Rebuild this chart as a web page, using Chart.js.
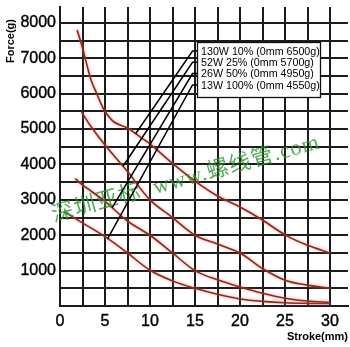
<!DOCTYPE html>
<html lang="zh">
<head>
<meta charset="UTF-8">
<title>Force - Stroke</title>
<script src="https://cdn.jsdelivr.net/npm/chart.js"></script>
<style>
  html, body { margin: 0; padding: 0; background: #fff; }
  canvas { display: block; }
</style>
</head>
<body>
<canvas id="forceChart" width="350" height="347"></canvas>
<script>
// stroke (mm) against holding force (g), one pair of arrays per duty rating
const stroke130 = [1.9, 2.5, 3, 3.5, 4, 4.5, 5, 6, 7.5, 9, 10, 12.5, 15, 17.5, 20, 22.5, 25, 27.5, 30];
const force130  = [7800, 7300, 6800, 6350, 6050, 5750, 5500, 5200, 5030, 4760, 4580, 4030, 3530, 3110, 2800, 2430, 2010, 1715, 1500];

const stroke52 = [2.4, 3.5, 5, 7.5, 10, 12.5, 15, 17.5, 20, 22.5, 25, 27.5, 30];
const force52  = [5480, 5050, 4550, 3800, 3000, 2500, 2000, 1750, 1500, 1060, 730, 590, 500];

const stroke26 = [1.7, 2.5, 5, 7.5, 10, 12.5, 15, 17.5, 20, 22.5, 25, 27.5, 30];
const force26  = [3600, 3420, 2960, 2400, 2000, 1500, 1000, 740, 540, 360, 220, 140, 100];

const stroke13 = [0.5, 2.5, 5, 7.5, 10, 12.5, 15, 17.5, 20, 22.5, 25, 27.5, 30];
const force13  = [2660, 2350, 1960, 1500, 1010, 710, 500, 330, 200, 130, 90, 75, 70];

const seriesLabels = ['130W 10% (0mm 6500g)', '52W 25% (0mm 5700g)', '26W 50% (0mm 4950g)', '13W 100% (0mm 4550g)'];
// stroke where each label's pointer meets its curve
const pointerStroke = [8.4, 7.0, 5.8, 5.3];

const xTickLabels = [0, 5, 10, 15, 20, 25, 30];
const yTickLabels = [1000, 2000, 3000, 4000, 5000, 6000, 7000, 8000];

const strokes = [stroke130, stroke52, stroke26, stroke13];
const forces = [force130, force52, force26, force13];

const FONT = "'Liberation Sans', Arial, Helvetica, sans-serif";
const CURVE = '#8a2a1d';
const GRID = '#1c1c1c';

function toPoints(xs, ys) {
  return xs.map((x, i) => ({ x: x, y: ys[i] }));
}

// linear read-off of a curve at a given stroke
function forceAt(xs, ys, x) {
  for (let i = 1; i < xs.length; i++) {
    if (x <= xs[i]) {
      const t = (x - xs[i - 1]) / (xs[i] - xs[i - 1]);
      return ys[i - 1] + t * (ys[i] - ys[i - 1]);
    }
  }
  return ys[ys.length - 1];
}

// soft reddish halo around each curve
const curveGlow = {
  id: 'curveGlow',
  beforeDatasetDraw(chart) {
    const ctx = chart.ctx;
    ctx.save();
    ctx.shadowColor = 'rgba(235, 105, 95, 0.75)';
    ctx.shadowBlur = 3;
  },
  afterDatasetDraw(chart) {
    chart.ctx.restore();
  }
};

// boxed key with pointer lines to the curves, axis title, watermark
const legendAt = { stroke: 15.25, force: 7460 };
const annotations = {
  id: 'annotations',
  afterDatasetsDraw(chart) {
    const ctx = chart.ctx;
    const xs = chart.scales.x;
    const ys = chart.scales.y;

    // watermark
    ctx.save();
    ctx.translate(54, 222);
    ctx.rotate(-15.5 * Math.PI / 180);
    ctx.font = "22px 'Liberation Serif', 'Noto Sans CJK SC', serif";
    ctx.letterSpacing = '1px';
    ctx.fillStyle = 'rgba(45, 150, 45, 0.8)';
    ctx.textBaseline = 'alphabetic';
    ctx.fillText('深圳亚标  www.螺线管.com', 0, 0);
    ctx.restore();

    const left = Math.round(xs.getPixelForValue(legendAt.stroke)) + 0.5;
    const top = Math.round(ys.getPixelForValue(legendAt.force)) + 0.5;
    const w = 123, h = 55;

    // pointer lines
    ctx.save();
    ctx.strokeStyle = '#000';
    ctx.lineWidth = 1.5;
    seriesLabels.forEach((label, i) => {
      const rowY = top + 8.5 + i * 11.3;
      const sx = pointerStroke[i];
      const px = xs.getPixelForValue(sx);
      const py = ys.getPixelForValue(forceAt(strokes[i], forces[i], sx));
      ctx.beginPath();
      ctx.moveTo(px, py);
      ctx.lineTo(left - 5, rowY);
      ctx.lineTo(left, rowY);
      ctx.stroke();
    });
    ctx.restore();

    // key box
    ctx.save();
    ctx.fillStyle = '#fff';
    ctx.fillRect(left, top, w, h);
    ctx.strokeStyle = '#111';
    ctx.lineWidth = 1.3;
    ctx.strokeRect(left, top, w, h);
    ctx.fillStyle = '#000';
    ctx.font = '10.7px ' + FONT;
    ctx.textBaseline = 'middle';
    seriesLabels.forEach((label, i) => {
      ctx.fillText(label, left + 3.5, top + 9.5 + i * 11.2);
    });
    ctx.restore();

    // vertical axis title
    ctx.save();
    ctx.translate(11, 41);
    ctx.rotate(-Math.PI / 2);
    ctx.font = 'bold 11px ' + FONT;
    ctx.fillStyle = '#000';
    ctx.textAlign = 'center';
    ctx.textBaseline = 'middle';
    ctx.fillText('Force(g)', 0, 0);
    ctx.restore();
  }
};

const datasets = seriesLabels.map((label, i) => ({
  label: label,
  data: toPoints(strokes[i], forces[i]),
  borderColor: CURVE,
  borderWidth: 1.6,
  pointRadius: 0,
  fill: false,
  tension: 0.35
}));

new Chart(document.getElementById('forceChart'), {
  type: 'line',
  data: { datasets: datasets },
  options: {
    responsive: false,
    animation: false,
    layout: { padding: { top: 7, right: 2, left: 0, bottom: 0 } },
    plugins: {
      legend: { display: false },
      tooltip: { enabled: false }
    },
    scales: {
      x: {
        type: 'linear',
        min: 0,
        max: 32,
        afterFit(scale) {
          scale.height = 41;
          scale.paddingLeft = 0;
          scale.paddingRight = 0;
        },
        grid: { color: GRID, lineWidth: 2, drawTicks: false },
        border: { color: GRID, width: 2 },
        ticks: {
          stepSize: 2.5,
          includeBounds: false,
          autoSkip: false,
          maxRotation: 0,
          padding: 6,
          color: '#000',
          textStrokeColor: '#000',
          textStrokeWidth: 0.4,
          font: { family: FONT, size: 16 },
          callback: v => xTickLabels.includes(v) ? String(v) : ''
        },
        title: {
          display: true,
          text: 'Stroke(mm)',
          align: 'end',
          color: '#000',
          font: { family: FONT, size: 11, weight: 'bold' },
          padding: { top: 0, bottom: 3 }
        }
      },
      y: {
        min: 0,
        max: 8450,
        // gridlines every 500 g up to 8000, the axis runs a little past
        afterBuildTicks(scale) {
          const ticks = [];
          for (let v = 0; v <= 8000; v += 500) ticks.push({ value: v });
          scale.ticks = ticks;
        },
        afterFit(scale) {
          scale.width = 60;
          scale.paddingTop = 0;
          scale.paddingBottom = 0;
        },
        grid: { color: GRID, lineWidth: 2, drawTicks: false },
        border: { color: GRID, width: 2 },
        ticks: {
          autoSkip: false,
          padding: 4,
          color: '#000',
          textStrokeColor: '#000',
          textStrokeWidth: 0.4,
          font: { family: FONT, size: 16 },
          callback: v => yTickLabels.includes(v) ? String(v) : ''
        }
      }
    }
  },
  plugins: [curveGlow, annotations]
});
</script>
</body>
</html>
